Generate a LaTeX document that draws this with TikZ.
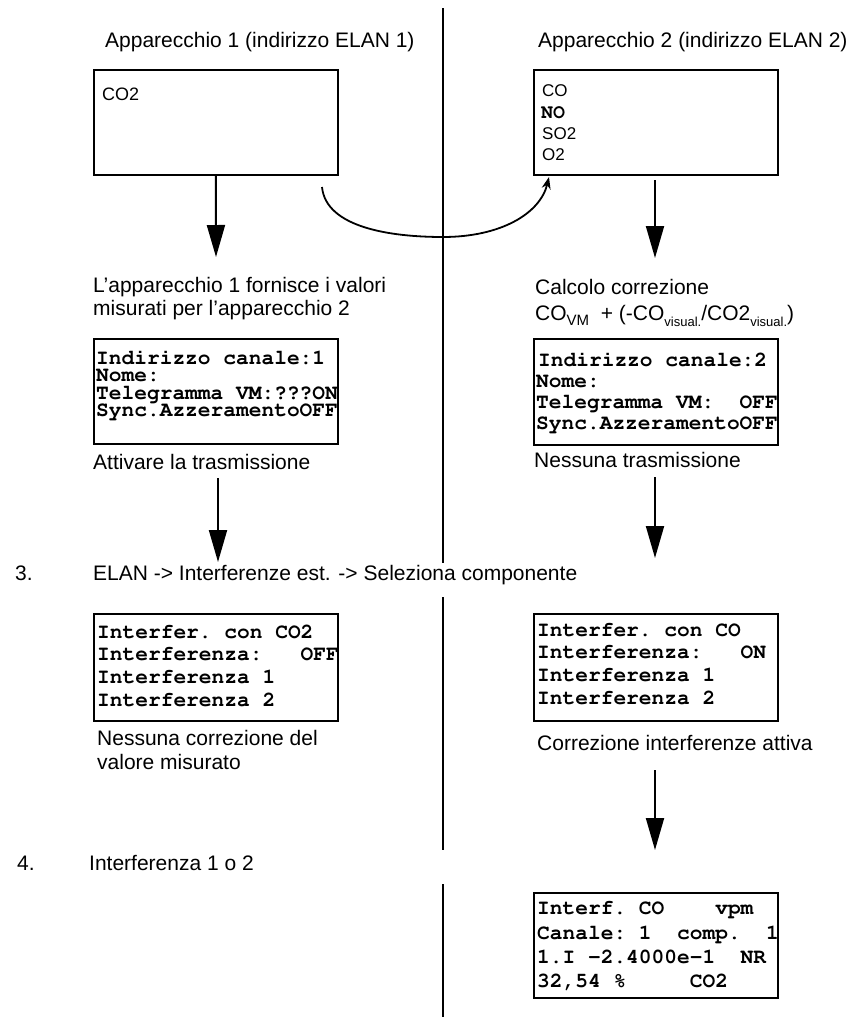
\documentclass[tikz,border=0pt]{standalone}
\usepackage[T1]{fontenc}
\usepackage{fontspec}
\setmainfont{Liberation Sans}
\newcommand{\lcdfam}{\fontencoding{T1}\fontfamily{pcr}\fontseries{b}\selectfont}
\usetikzlibrary{arrows.meta}
\begin{document}
\begin{tikzpicture}[x=1pt,y=-1pt,
  txt/.style={anchor=base west, inner sep=0pt, font=\fontsize{21}{23}\selectfont},
  gas/.style={anchor=base west, inner sep=0pt, font=\fontsize{17}{21}\selectfont},
  gasmono/.style={anchor=base west, inner sep=0pt, font=\lcdfam\fontsize{20}{21}\selectfont},
  lcdline/.style={anchor=base west, inner sep=0pt, text height=12pt, text depth=2.5pt,
    font=\lcdfam\fontsize{21.2}{22}\selectfont\frenchspacing},
  panel/.style={draw, line width=1.7pt, anchor=north west, inner sep=0pt, minimum width=244pt, minimum height=#1},
  flow/.style={line width=2pt, -{Triangle[width=18pt,length=32pt]}},
  link/.style={line width=1.8pt, -{Stealth[length=12pt,width=9pt]}},
  divider/.style={line width=2pt},
]
\fill[white] (0,0) rectangle (857,1020);
\useasboundingbox (0,0) rectangle (857,1020);

% ---- centre divider, broken at the step headings ----
\coordinate (v1) at (443,8);
\coordinate (v2) at (443,563);
\coordinate (v3) at (443,597);
\coordinate (v4) at (443,850);
\coordinate (v5) at (443,884);
\coordinate (v6) at (443,1017);
\draw[divider] (v1) -- (v2);
\draw[divider] (v3) -- (v4);
\draw[divider] (v5) -- (v6);

% ---- devices ----
\node[txt] (t1) at (105,47.5) {Apparecchio 1 (indirizzo ELAN 1)};
\node[txt] (t2) at (538,47.5) {Apparecchio 2 (indirizzo ELAN 2)};

\node[panel=105pt] (dev1) at (93,69) {};
\node[gas, font=\fontsize{18}{21}\selectfont] (dev1co2) at (102,100) {CO2};

\node[panel=105pt] (dev2) at (533,69) {};
\node[gas] (dev2co) at (542,96) {CO};
\node[gasmono] (dev2no) at (541,118) {NO};
\node[gas] (dev2so2) at (542,139) {SO2};
\node[gas] (dev2o2) at (542,160) {O2};

% measured value sent from device 1 to device 2
\coordinate (ls) at (322,187);
\coordinate (lm) at (443,237);
\coordinate (le) at (549,177);
\draw[link] (ls) .. controls (326,228) and (392,237) .. (lm)
                 .. controls (500,237) and (540,214) .. (le);

\coordinate (a1e) at (216,257);
\draw[flow] (dev1.south) -- (a1e);
\coordinate (a2s) at (655,180);
\coordinate (a2e) at (655,258);
\draw[flow] (a2s) -- (a2e);

% ---- step 2: channel settings ----
\node[txt] (c1a) at (93,292.5) {L’apparecchio 1 fornisce i valori};
\node[txt] (c1b) at (93,315.5) {misurati per l’apparecchio 2};

\node[txt] (c2a) at (535,294.5) {Calcolo correzione};
\node[txt] (c2b) at (535,320.5) {CO\raisebox{-4.5pt}{\fontsize{15}{15}\selectfont VM}\ \ + (-CO\raisebox{-5.5pt}{\fontsize{13}{13}\selectfont visual.}/CO2\raisebox{-5.5pt}{\fontsize{13}{13}\selectfont visual.})};

\node[panel=105pt] (lcd1) at (93,338) {};
\begin{scope}
  \clip ([shift={(0.9pt,0.9pt)}]lcd1.south west) rectangle ([shift={(-0.9pt,-0.9pt)}]lcd1.north east);
  \node[lcdline] (lcd1a) at (96,364) {Indirizzo canale:1};
  \node[lcdline] (lcd1b) at (96,381.5) {Nome:};
  \node[lcdline] (lcd1c) at (96,399) {Telegramma VM:???ON};
  \node[lcdline] (lcd1d) at (96,416.5) {Sync.AzzeramentoOFF};
\end{scope}

\node[panel=106pt] (lcd2) at (533,338) {};
\begin{scope}
  \clip ([shift={(0.9pt,0.9pt)}]lcd2.south west) rectangle ([shift={(-0.9pt,-0.9pt)}]lcd2.north east);
  \node[lcdline] (lcd2a) at (538,366) {Indirizzo canale:2};
  \node[lcdline] (lcd2b) at (536,387) {Nome:};
  \node[lcdline] (lcd2c) at (536,408) {Telegramma VM:~~OFF};
  \node[lcdline] (lcd2d) at (536,429) {Sync.AzzeramentoOFF};
\end{scope}

\node[txt] (c3) at (93,469) {Attivare la trasmissione};
\node[txt] (c4) at (534,467) {Nessuna trasmissione};

\coordinate (a3s) at (218,478);
\coordinate (a3e) at (218,562);
\draw[flow] (a3s) -- (a3e);
\coordinate (a4s) at (655,477);
\coordinate (a4e) at (655,558);
\draw[flow] (a4s) -- (a4e);

% ---- step 3 ----
\node[txt] (s3) at (15,580.5) {3.};
\node[txt] (s3t) at (93,580.5) {ELAN -> Interferenze est. -> Seleziona componente};

\node[panel=107pt] (lcd3) at (93,613) {};
\begin{scope}
  \clip ([shift={(0.9pt,0.9pt)}]lcd3.south west) rectangle ([shift={(-0.9pt,-0.9pt)}]lcd3.north east);
  \node[lcdline] (lcd3a) at (97,638) {Interfer. con CO2};
  \node[lcdline] (lcd3b) at (97,660.5) {Interferenza:~~~OFF};
  \node[lcdline] (lcd3c) at (97,683.5) {Interferenza 1};
  \node[lcdline] (lcd3d) at (97,706) {Interferenza 2};
\end{scope}

\node[panel=107pt] (lcd4) at (533,613) {};
\begin{scope}
  \clip ([shift={(0.9pt,0.9pt)}]lcd4.south west) rectangle ([shift={(-0.9pt,-0.9pt)}]lcd4.north east);
  \node[lcdline] (lcd4a) at (537,636) {Interfer. con CO};
  \node[lcdline] (lcd4b) at (537,658.5) {Interferenza:~~~ON};
  \node[lcdline] (lcd4c) at (537,681.5) {Interferenza 1};
  \node[lcdline] (lcd4d) at (537,704) {Interferenza 2};
\end{scope}

\node[txt] (c5a) at (97,745.5) {Nessuna correzione del};
\node[txt] (c5b) at (97,769.5) {valore misurato};
\node[txt] (c6) at (537,750.5) {Correzione interferenze attiva};

\coordinate (a5s) at (655,770);
\coordinate (a5e) at (655,850);
\draw[flow] (a5s) -- (a5e);

% ---- step 4 ----
\node[txt] (s4) at (17,870.5) {4.};
\node[txt] (s4t) at (89,870.5) {Interferenza 1 o 2};

\node[panel=105pt] (lcd5) at (533,892) {};
\begin{scope}
  \clip ([shift={(0.9pt,0.9pt)}]lcd5.south west) rectangle ([shift={(-0.9pt,-0.9pt)}]lcd5.north east);
  \node[lcdline] (lcd5a) at (537,914) {Interf. CO~~~~vpm};
  \node[lcdline] (lcd5b) at (537,939) {Canale: 1~~comp.~~1};
  \node[lcdline] (lcd5c) at (537,963) {1.I -2.4000e-1~~NR};
  \node[lcdline] (lcd5d) at (537,987) {32,54 \%~~~~~CO2};
\end{scope}
\end{tikzpicture}
\end{document}
